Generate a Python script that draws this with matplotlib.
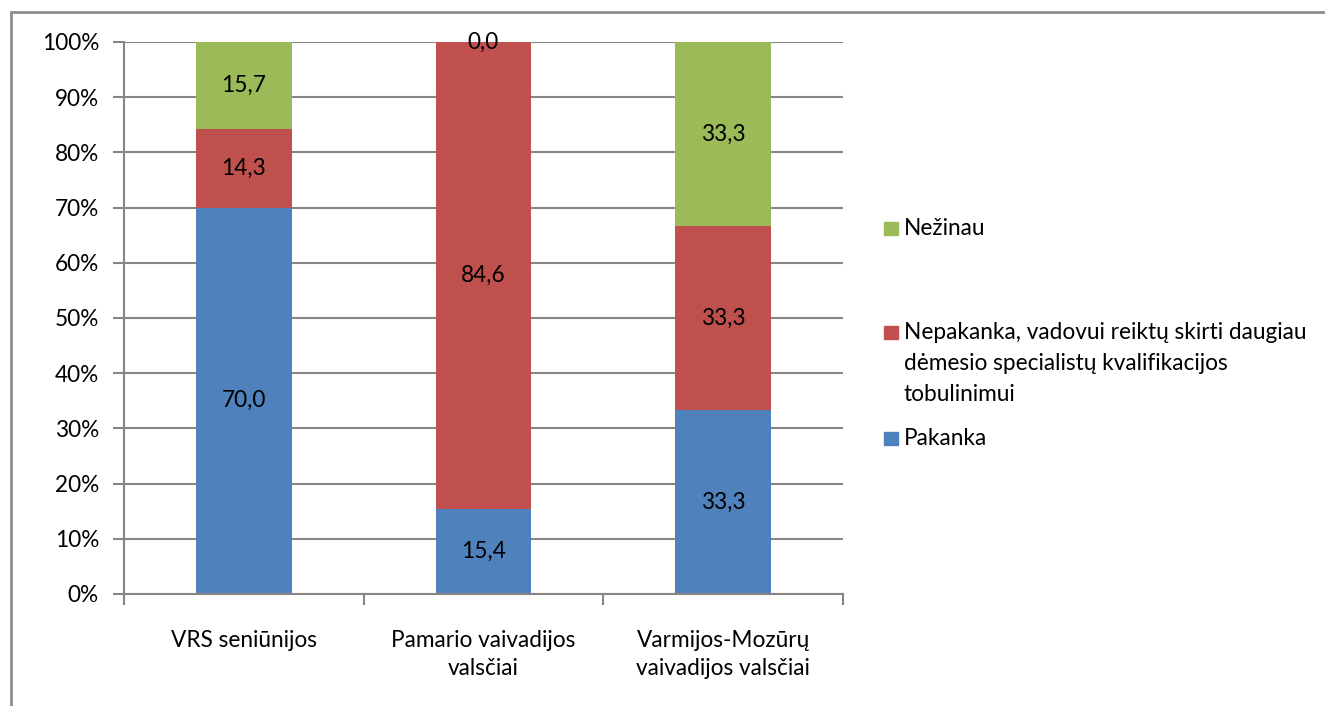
import matplotlib
matplotlib.use("Agg")
import matplotlib.pyplot as plt
from matplotlib.patches import Rectangle
import numpy as np

plt.rcParams['font.family'] = ['Lato', 'DejaVu Sans']

categories = ["VRS seniūnijos", "Pamario vaivadijos\nvalsčiai", "Varmijos-Mozūrų\nvaivadijos valsčiai"]
series_names = ["Pakanka",
                "Nepakanka, vadovui reiktų skirti daugiau\ndėmesio specialistų kvalifikacijos\ntobulinimui",
                "Nežinau"]
pakanka = [70.0, 15.4, 33.3]
nepakanka = [14.3, 84.6, 33.3]
nezinau = [15.7, 0.0, 33.3]
colors = ["#4F81BD", "#C0504D", "#9BBB59"]

W, H = 1325, 706
fig = plt.figure(figsize=(W / 100, H / 100), dpi=100)
ax = fig.add_axes([124 / W, (H - 594) / H, 719 / W, 552 / H])

grid_c = "#868686"
fs = 16.3

data = np.array([pakanka, nepakanka, nezinau])
totals = data.sum(axis=0)
shares = data / totals * 100
x = np.arange(len(categories))
bottom = np.zeros(len(categories))
for vals, pct, col in zip(data, shares, colors):
    ax.bar(x, pct, width=0.4, bottom=bottom, color=col, zorder=3)
    for xi, b, p, v in zip(x, bottom, pct, vals):
        ax.text(xi, b + p / 2, f"{v:.1f}".replace(".", ","), ha="center", va="center",
                fontsize=fs, color="black", zorder=4)
    bottom = bottom + pct

ax.set_xlim(-0.5, 2.5)
ax.set_ylim(0, 100)
ax.set_yticks(np.arange(0, 101, 10))
ax.set_yticklabels([f"{v}%" for v in range(0, 101, 10)], fontsize=fs)
ax.yaxis.grid(True, color=grid_c, linewidth=1.5, zorder=0)
ax.tick_params(axis="y", length=8, width=1.5, color=grid_c, pad=10)

ax.set_xticks(x)
ax.set_xticklabels(categories, fontsize=fs, linespacing=1.43)
ax.set_xticks([-0.5, 0.5, 1.5, 2.5], minor=True)
ax.tick_params(axis="x", which="major", length=0, pad=26)
ax.tick_params(axis="x", which="minor", length=8, width=1.5, color=grid_c)

for s in ["top", "right"]:
    ax.spines[s].set_visible(False)
for s in ["left", "bottom"]:
    ax.spines[s].set_color(grid_c)
    ax.spines[s].set_linewidth(1.5)
    ax.spines[s].set_zorder(5)

# legend, drawn top to bottom in reverse stacking order (first-line baselines in px)
legend_rows = [(235, 2), (339, 1), (445, 0)]
line_px = 31
for ypix, idx in legend_rows:
    fig.patches.append(Rectangle((884 / W, 1 - ypix / H), 14 / W, 13 / H,
                                 transform=fig.transFigure, color=colors[idx]))
    for k, line in enumerate(series_names[idx].split("\n")):
        fig.text(904 / W, 1 - (ypix + k * line_px) / H, line, fontsize=fs,
                 va="baseline", ha="left")

# outer frame
fig.patches.append(Rectangle((11 / W, -0.2), 1.5, 1.2 - 12 / H, transform=fig.transFigure,
                             fill=False, edgecolor="#8c8c8c", linewidth=2))

fig.savefig("out.png", dpi=100)
